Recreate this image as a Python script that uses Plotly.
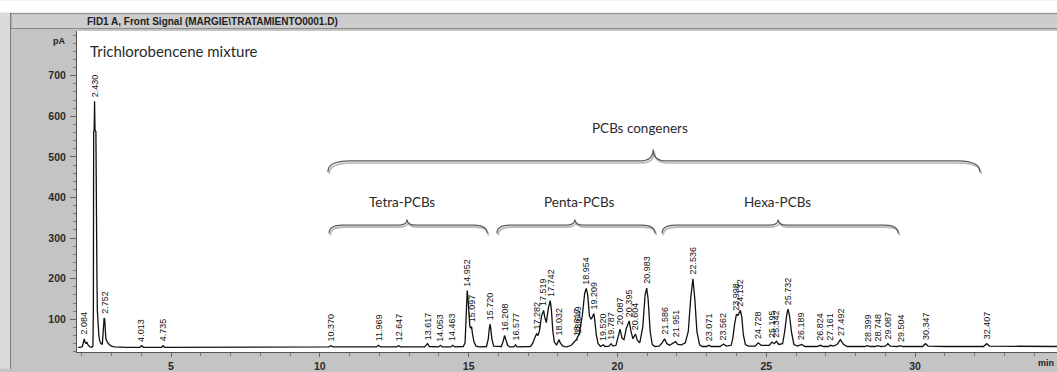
import numpy as np
import plotly.graph_objects as go

# ---------------- data ----------------
rt = [1.88, 1.95, 2.02, 2.06, 2.084, 2.11, 2.14, 2.17, 2.21, 2.28, 2.33, 2.375, 2.39, 2.400, 2.415,
      2.425, 2.430, 2.435, 2.445, 2.475, 2.485, 2.51, 2.525, 2.535, 2.555, 2.575, 2.60, 2.64, 2.69,
      2.705, 2.72, 2.735, 2.752, 2.77, 2.785, 2.81, 2.86, 2.92, 3.0, 3.1, 3.5, 3.95, 4.013, 4.07,
      4.68, 4.735, 4.79, 6.0, 8.0, 10.0, 10.30, 10.370, 10.44, 11.90, 11.969, 12.04, 12.58, 12.647,
      12.71, 13.52, 13.57, 13.617, 13.68, 13.99, 14.053, 14.11, 14.40, 14.463, 14.53, 14.82, 14.88,
      14.91, 14.93, 14.952, 14.975, 15.0, 15.04, 15.07, 15.097, 15.13, 15.18, 15.25, 15.35, 15.60,
      15.66, 15.695, 15.720, 15.745, 15.78, 15.84, 16.10, 16.16, 16.208, 16.25, 16.31, 16.38, 16.52,
      16.577, 16.63, 17.08, 17.16, 17.23, 17.282, 17.33, 17.38, 17.45, 17.519, 17.56, 17.61, 17.68,
      17.742, 17.78, 17.83, 17.88, 17.95, 17.99, 18.032, 18.08, 18.15, 18.22, 18.30, 18.45, 18.55,
      18.617, 18.635, 18.649, 18.72, 18.82, 18.90, 18.954, 19.0, 19.06, 19.12, 19.18, 19.209, 19.24,
      19.29, 19.35, 19.43, 19.520, 19.58, 19.72, 19.787, 19.85, 19.95, 20.02, 20.087, 20.15, 20.22,
      20.30, 20.395, 20.45, 20.52, 20.604, 20.67, 20.75, 20.85, 20.93, 20.983, 21.03, 21.10, 21.17,
      21.25, 21.40, 21.50, 21.586, 21.66, 21.75, 21.85, 21.951, 22.03, 22.15, 22.28, 22.38, 22.46,
      22.536, 22.60, 22.67, 22.76, 22.85, 23.0, 23.071, 23.15, 23.45, 23.562, 23.66, 23.82, 23.88,
      23.94, 23.998, 24.05, 24.09, 24.132, 24.18, 24.23, 24.30, 24.40, 24.63, 24.728, 24.83, 25.10,
      25.195, 25.27, 25.342, 25.42, 25.55, 25.62, 25.69, 25.732, 25.78, 25.85, 25.93, 26.05, 26.189,
      26.30, 26.70, 26.824, 26.92, 27.08, 27.161, 27.25, 27.38, 27.492, 27.60, 27.72, 28.3, 28.399,
      28.5, 28.65, 28.748, 28.85, 29.0, 29.087, 29.17, 29.42, 29.504, 29.59, 30.25, 30.347, 30.44,
      31.0, 32.30, 32.407, 32.50, 33.5, 34.8]
signal = [31, 31, 33, 45, 52, 44, 40, 44, 37, 32, 31, 34, 120, 560, 566,
          600, 637, 600, 566, 562, 205, 200, 120, 98, 95, 60, 48, 41, 38,
          60, 76, 74, 103, 100, 70, 52, 44, 38, 34, 32, 31, 31, 35, 31,
          31, 35, 31, 31, 32, 32, 32, 35, 32, 32, 36, 32, 32, 35,
          32, 32, 37, 40, 33, 32, 36, 32, 32, 36, 32, 33, 42,
          110, 158, 171, 155, 115, 82, 78, 82, 64, 44, 34, 32, 33,
          52, 78, 88, 76, 52, 34, 33, 46, 60, 50, 36, 32, 32,
          37, 32, 33, 42, 56, 64, 60, 72, 108, 122, 104, 92, 128,
          146, 124, 70, 44, 37, 42, 50, 42, 35, 33, 32, 36, 44,
          50, 48, 55, 64, 110, 165, 176, 160, 108, 100, 112, 114, 96,
          62, 40, 33, 37, 33, 34, 40, 34, 36, 56, 76, 54, 50,
          78, 96, 72, 52, 64, 48, 42, 80, 160, 177, 150, 70, 38,
          33, 34, 42, 52, 40, 36, 40, 45, 38, 37, 42, 70, 150,
          200, 150, 70, 37, 33, 33, 36, 33, 33, 39, 34, 36, 55,
          90, 112, 110, 116, 122, 105, 62, 38, 34, 34, 42, 36, 36,
          44, 40, 46, 38, 40, 70, 112, 125, 110, 68, 38, 34, 38,
          33, 33, 36, 33, 33, 36, 34, 38, 50, 38, 33, 33, 35,
          33, 33, 35, 33, 34, 40, 34, 33, 35, 33, 33, 40, 34,
          33, 33, 40, 34, 33, 33]

peak_rt = [2.084, 2.430, 2.752, 4.013, 4.735, 10.370, 11.969, 12.647, 13.617, 14.053, 14.463,
           14.952, 15.097, 15.720, 16.208, 16.577, 17.282, 17.519, 17.742, 18.032, 18.617, 18.649,
           18.954, 19.209, 19.520, 19.787, 20.087, 20.395, 20.604, 20.983, 21.586, 21.951, 22.536,
           23.071, 23.562, 23.998, 24.132, 24.728, 25.195, 25.342, 25.732, 26.189, 26.824, 27.161,
           27.492, 28.399, 28.748, 29.087, 29.504, 30.347, 32.407]

y_ticks = [100, 200, 300, 400, 500, 600, 700]
x_ticks = [5, 10, 15, 20, 25, 30]

title_text = "FID1 A, Front Signal (MARGIE\\TRATAMIENTO0001.D)"
sample_text = "Trichlorobencene mixture"
group_labels = ["PCBs congeners", "Tetra-PCBs", "Penta-PCBs", "Hexa-PCBs"]

# ---------------- layout geometry (pixels) ----------------
W, H = 1057, 372
L, R, T, B = 77, 0, 31, 17
PW, PH = W - L - R, H - T - B


def px(xp):
    return (xp - L) / PW


def py(yp):
    return (H - B - yp) / PH


fig = go.Figure()
fig.add_trace(go.Scatter(x=rt, y=signal, mode="lines",
                         line=dict(color="#111111", width=1.3),
                         hoverinfo="skip", showlegend=False))

annotations = []
label_font = dict(family="Liberation Sans, Arial", size=9, color="#111111")
peak_h = np.interp(peak_rt, rt, signal)
for t, h in zip(peak_rt, peak_h):
    annotations.append(dict(x=t, y=h, xref="x", yref="y", text=f"{t:.3f}",
                            textangle=-90, showarrow=False, xanchor="center",
                            yanchor="bottom", yshift=2, font=label_font))

# text annotations
txt_font = dict(family="Lato, Open Sans, sans-serif", size=13.5, color="#2a2a2a")
annotations.append(dict(x=px(88), y=py(51), xref="paper", yref="paper", text=sample_text,
                        showarrow=False, xanchor="left", yanchor="middle",
                        font=dict(family="Lato, Open Sans, sans-serif", size=15, color="#2a2a2a")))
grp_pos = [(640, 129), (402, 204), (579, 204), (777, 204)]
for lab, (gx, gy) in zip(group_labels, grp_pos):
    annotations.append(dict(x=px(gx), y=py(gy), xref="paper", yref="paper", text=lab,
                            showarrow=False, xanchor="center", yanchor="middle", font=txt_font))

# window chrome text
annotations.append(dict(x=px(212), y=py(21), xref="paper", yref="paper", text=title_text,
                        showarrow=False, xanchor="center", yanchor="middle",
                        font=dict(family="Liberation Sans, Arial", size=10, color="#222",
                                  weight="bold")))
annotations.append(dict(x=px(67), y=py(41), xref="paper", yref="paper", text="pA",
                        showarrow=False, xanchor="right", yanchor="middle",
                        font=dict(family="Liberation Sans, Arial", size=9, color="#222",
                                  weight="bold")))
annotations.append(dict(x=px(1056), y=py(366), xref="paper", yref="paper", text="min",
                        showarrow=False, xanchor="right", yanchor="middle",
                        font=dict(family="Liberation Sans, Arial", size=9, color="#222",
                                  weight="bold")))

shapes = []
# chrome
shapes.append(dict(type="rect", xref="paper", yref="paper", x0=px(0), x1=px(W), y0=py(0), y1=py(12.5),
                   fillcolor="white", line=dict(width=0), layer="below"))
shapes.append(dict(type="rect", xref="paper", yref="paper", x0=px(0), x1=px(10), y0=py(12.5), y1=py(H),
                   fillcolor="#d9d9d9", line=dict(width=0), layer="below"))
shapes.append(dict(type="line", xref="paper", yref="paper", x0=px(10.5), x1=px(10.5), y0=py(12.5), y1=py(H),
                   line=dict(color="#7a7a7a", width=1), layer="below"))
shapes.append(dict(type="rect", xref="paper", yref="paper", x0=px(11), x1=px(W + 2), y0=py(13.5), y1=py(28.5),
                   fillcolor="#cdcdcd", line=dict(color="#8a8a8a", width=1), layer="below"))


def brace(x0, x1, xt, y_end, y_h, y_tip, d, dt):
    return (f"M {x0},{y_end} Q {x0},{y_h} {x0 + d},{y_h} L {xt - dt},{y_h} "
            f"Q {xt},{y_h} {xt},{y_tip} Q {xt},{y_h} {xt + dt},{y_h} "
            f"L {x1 - d},{y_h} Q {x1},{y_h} {x1},{y_end}")


braces = [
    (10.27, 32.18, 21.2, 463, 490, 519, 0.75, 0.45),
    (10.31, 15.62, 12.93, 312, 332, 346, 0.45, 0.3),
    (15.95, 21.26, 18.57, 312, 332, 346, 0.45, 0.3),
    (21.50, 29.43, 25.40, 312, 332, 346, 0.45, 0.3),
]
for (x0, x1, xt, ye, yh, yt, d, dt) in braces:
    shapes.append(dict(type="path", xref="x", yref="y",
                       path=brace(x0 + 0.04, x1 + 0.04, xt + 0.04, ye - 5, yh - 5, yt - 5, d, dt),
                       line=dict(color="#b5b5b5", width=1.6)))
    shapes.append(dict(type="path", xref="x", yref="y",
                       path=brace(x0, x1, xt, ye, yh, yt, d, dt),
                       line=dict(color="#5a5a5a", width=1.2)))

tick_font = dict(family="Liberation Sans, Arial", size=10.5, color="#2a2a2a", weight="bold")
fig.update_layout(
    width=W, height=H,
    margin=dict(l=L, r=R, t=T, b=B, pad=0),
    paper_bgcolor="#c4c4c4", plot_bgcolor="white",
    showlegend=False,
    xaxis=dict(range=[1.84, 34.77], tickvals=x_ticks, ticks="outside", ticklen=4,
               tickcolor="#666", tickwidth=1, showgrid=False, zeroline=False,
               showline=True, linecolor="#555", linewidth=1, tickfont=tick_font,
               minor=dict(dtick=1, tick0=0, ticklen=3, tickcolor="#777", ticks="outside",
                          showgrid=False)),
    yaxis=dict(range=[19.5, 810], tickvals=y_ticks, ticks="outside", ticklen=6,
               tickcolor="#666", tickwidth=1, showgrid=False, zeroline=False,
               showline=True, linecolor="#555", linewidth=1, tickfont=tick_font,
               ticklabelstandoff=2,
               minor=dict(dtick=20, tick0=0, ticklen=3, tickcolor="#777", ticks="outside",
                          showgrid=False)),
    annotations=annotations,
    shapes=shapes,
)

fig.write_html("out.html")
